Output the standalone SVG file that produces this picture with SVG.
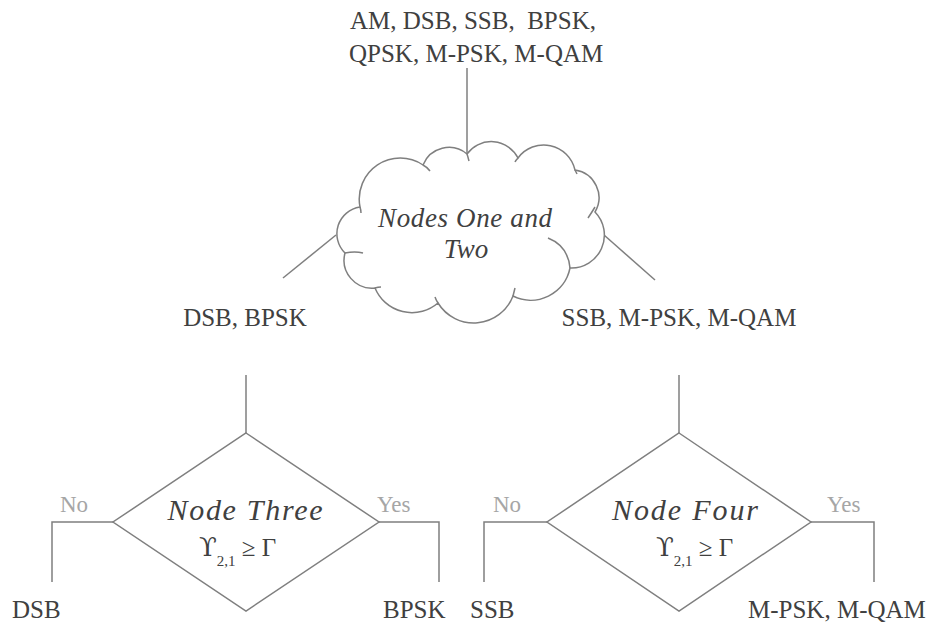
<svg xmlns="http://www.w3.org/2000/svg" width="935" height="626" viewBox="0 0 935 626">
<style>
  .t { font-family: "Liberation Serif", "Times New Roman", serif; fill: #404040; font-size: 25px; }
  .it { font-family: "Liberation Serif", "Times New Roman", serif; fill: #404040; font-style: italic; }
  .yn { font-family: "Liberation Serif", "Times New Roman", serif; fill: #a6a6a6; font-size: 23px; }
  .ups { font-family: "DejaVu Serif", "Liberation Serif", serif; font-size: 26px; }
  .ln { fill: none; stroke: #7f7f7f; stroke-width: 1.5; }
  .shape { fill: #ffffff; stroke: #7f7f7f; stroke-width: 1.5; }
</style>
<rect width="935" height="626" fill="#ffffff"/>
<g id="connectors">
  <line class="ln" x1="467" y1="68" x2="467" y2="154"/>
  <line class="ln" x1="336" y1="235" x2="283" y2="278"/>
  <line class="ln" x1="604" y1="235" x2="655" y2="280"/>
  <line class="ln" x1="246" y1="375" x2="246" y2="433"/>
  <line class="ln" x1="679" y1="375" x2="679" y2="433"/>
  <polyline class="ln" points="113,522 52,522 52,582"/>
  <polyline class="ln" points="379,522 439,522 439,582"/>
  <polyline class="ln" points="547,522 484,522 484,582"/>
  <polyline class="ln" points="811,522 874,522 874,582"/>
</g>
<g id="root">
  <text class="t" x="350" y="29" xml:space="preserve">AM, DSB, SSB,  BPSK,</text>
  <text class="t" x="349" y="62">QPSK, M-PSK, M-QAM</text>
</g>
<g id="cloud">
  <path class="shape" d="M 467 154 A 30 30 0 0 1 518 158 A 32 32 0 0 1 575 170 A 28 28 0 0 1 595 212 A 33 33 0 0 1 570 268 A 40 40 0 0 1 513 296 A 42 42 0 0 1 438 303 A 40 40 0 0 1 375 288 A 28 28 0 0 1 345 253 A 27 27 0 0 1 360 207 A 41 41 0 0 1 423 165 A 28 28 0 0 1 467 154 Z"/>
  <path class="ln" d="M 423 165 Q 427 167 430 171 M 467 154 Q 468 157 469 161 M 518 158 Q 516 160 515 162 M 575 170 Q 576 172 577 174 M 595 207 Q 592 212 588 218 M 548 238 Q 568 246 570 268 M 513 296 Q 514 292 515 288 M 438 303 Q 436 300 435 297 M 375 288 Q 378 287 381 287 M 345 253 Q 355 251 363 253 M 360 207 Q 361 210 361 213"/>
  <text class="it" x="465" y="227" font-size="27" text-anchor="middle" textLength="174">Nodes One and</text>
  <text class="it" x="466" y="258" font-size="27" text-anchor="middle">Two</text>
</g>
<g id="left-set">
  <text class="t" x="245" y="326" text-anchor="middle">DSB, BPSK</text>
</g>
<g id="right-set">
  <text class="t" x="679" y="326" text-anchor="middle">SSB, M-PSK, M-QAM</text>
</g>
<g id="node-three">
  <polygon class="shape" points="246,433 379,522 246,611 113,522"/>
  <text class="it" x="245" y="520" font-size="30" text-anchor="middle" textLength="155">Node Three</text>
  <text class="t" x="199" y="556" font-size="24"><tspan class="ups">ϒ</tspan><tspan font-size="15" dy="10">2,1</tspan><tspan dy="-10"> ≥ Γ</tspan></text>
  <text class="yn" x="60" y="512">No</text>
  <text class="yn" x="377" y="512">Yes</text>
</g>
<g id="node-four">
  <polygon class="shape" points="679,433 811,522 679,611 547,522"/>
  <text class="it" x="685" y="520" font-size="30" text-anchor="middle" textLength="146">Node Four</text>
  <text class="t" x="656" y="556" font-size="24"><tspan class="ups">ϒ</tspan><tspan font-size="15" dy="10">2,1</tspan><tspan dy="-10"> ≥ Γ</tspan></text>
  <text class="yn" x="493" y="512">No</text>
  <text class="yn" x="827" y="512">Yes</text>
</g>
<g id="leaf-dsb"><text class="t" x="12" y="618">DSB</text></g>
<g id="leaf-bpsk"><text class="t" x="383" y="618">BPSK</text></g>
<g id="leaf-ssb"><text class="t" x="470" y="618">SSB</text></g>
<g id="leaf-mpsk"><text class="t" x="748" y="618">M-PSK, M-QAM</text></g>
</svg>
